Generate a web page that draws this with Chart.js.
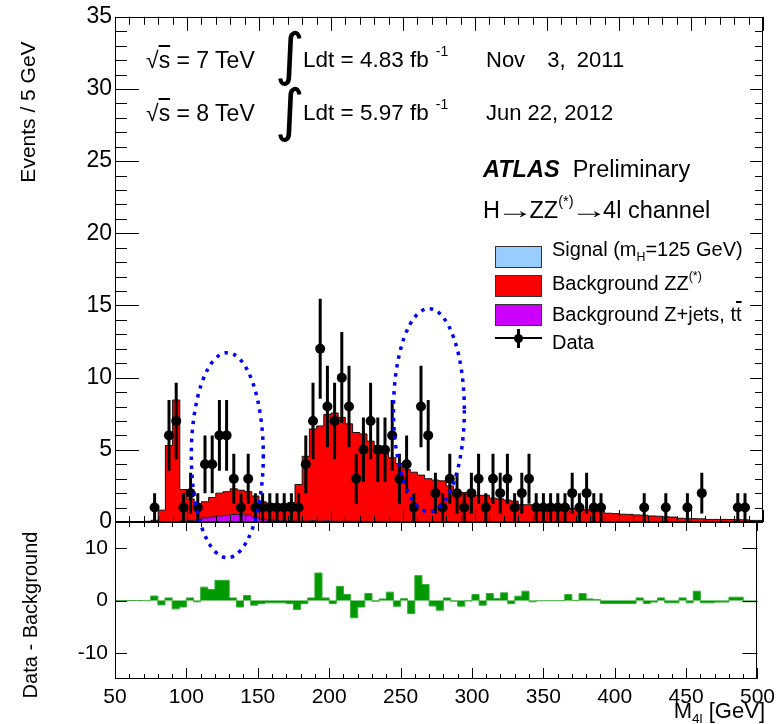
<!DOCTYPE html>
<html><head><meta charset="utf-8">
<script src="https://cdn.jsdelivr.net/npm/chart.js@4.4.1/dist/chart.umd.min.js"></script>
<style>
body{margin:0;background:#fff;}
#wrap{position:relative;width:781px;height:724px;overflow:hidden;font-family:"Liberation Sans",Arial,sans-serif;color:#000}
canvas{position:absolute;left:0;top:0}
.t{position:absolute;white-space:pre;line-height:1;}
.sup{position:relative;font-size:0.62em;top:-0.8em;}
.sub{position:relative;font-size:0.62em;top:0.4em;}
.ov{text-decoration:overline;}
.ar{display:inline-block;margin:0 3px;transform:scaleX(1.6);}
.box{position:absolute;width:45px;height:20px;border:1px solid #333;}
</style></head>
<body>
<div id="wrap">
<canvas id="top" width="781" height="724"></canvas>
<canvas id="bot" width="781" height="724"></canvas>

<div class="t" style="left:27px;top:112px;font-size:21px;transform:translate(-50%,-50%) rotate(-90deg)">Events / 5 GeV</div>
<div class="t" style="left:30px;top:615px;font-size:20px;transform:translate(-50%,-50%) rotate(-90deg)">Data - Background</div>
<div class="t" style="right:16px;top:700px;font-size:22px">M<span class="sub">4l</span> [GeV]</div>

<div class="t" style="left:146px;top:49px;font-size:23px">√<span class="ov">s</span> = 7 TeV</div>
<div class="t" style="left:146px;top:102px;font-size:23px">√<span class="ov">s</span> = 8 TeV</div>
<div class="t" style="left:275px;top:26px;font-size:57px;font-family:'DejaVu Sans'">∫</div>
<div class="t" style="left:275px;top:82px;font-size:57px;font-family:'DejaVu Sans'">∫</div>
<div class="t" style="left:303px;top:49px;font-size:22.5px">Ldt = 4.83 fb<span class="sup" style="margin-left:7px">-1</span></div>
<div class="t" style="left:303px;top:102px;font-size:22.5px">Ldt = 5.97 fb<span class="sup" style="margin-left:7px">-1</span></div>
<div class="t" style="left:486px;top:49px;font-size:22px;word-spacing:5px">Nov  3, 2011</div>
<div class="t" style="left:486px;top:102px;font-size:22px">Jun 22, 2012</div>

<div class="t" style="left:483px;top:158px;font-size:23.5px"><b><i>ATLAS</i></b>  Preliminary</div>
<div class="t" style="left:483px;top:199px;font-size:23.5px">H<span class="ar">→</span>ZZ<span class="sup">(*)</span><span class="ar">→</span>4l channel</div>

<div class="box" style="left:495px;top:246px;background:#99ccff"></div>
<div class="box" style="left:495px;top:275px;background:#ff0000"></div>
<div class="box" style="left:495px;top:304px;background:#cc00ff"></div>
<div style="position:absolute;left:495px;top:337px;width:47px;height:2px;background:#000"></div>
<div style="position:absolute;left:517px;top:329px;width:3px;height:19px;background:#000"></div>
<div style="position:absolute;left:514px;top:334px;width:9px;height:9px;border-radius:50%;background:#000"></div>
<div class="t" style="left:552px;top:239px;font-size:20px">Signal (m<span class="sub">H</span>=125 GeV)</div>
<div class="t" style="left:552px;top:273px;font-size:20px">Background ZZ<span class="sup">(*)</span></div>
<div class="t" style="left:552px;top:304px;font-size:20px">Background Z+jets, t<span class="ov">t</span></div>
<div class="t" style="left:552px;top:332px;font-size:20px">Data</div>
</div>
<script>
// ---- data (5 GeV bins, low edges 50..495, last edge 500) ----
const binEdges = [50,55,60,65,70,75,80,85,90,95,100,105,110,115,120,125,130,135,140,145,150,155,160,165,170,175,180,185,190,195,200,205,210,215,220,225,230,235,240,245,250,255,260,265,270,275,280,285,290,295,300,305,310,315,320,325,330,335,340,345,350,355,360,365,370,375,380,385,390,395,400,405,410,415,420,425,430,435,440,445,450,455,460,465,470,475,480,485,490,495,500];
const dataCounts = [0,0,0,0,0,1,0,6,7,1,2,1,4,4,6,6,3,1,3,1,1,1,1,1,1,1,4,7,12,8,7,10,8,3,5,7,5,5,6,3,4,1,8,6,2,1,3,2,1,2,3,1,3,2,3,1,2,3,1,1,1,1,1,2,1,2,1,1,0,0,0,0,0,1,0,0,1,0,0,1,0,2,0,0,0,0,1,1,0,0];
const bkgZZ = [0,0,0,0,0.05,0.12,0.82,5.3,8.42,2.17,1.5,1.1,1.12,1.35,1.58,1.64,1.78,1.66,1.63,1.48,1.2,1.17,1.15,1.17,1.28,2.54,4.49,6.36,6.59,7.37,7.5,7.2,6.75,6.15,6.06,5.56,5.26,4.71,4.41,4.01,3.62,3.42,3.22,2.97,2.87,2.82,2.47,2.07,2.03,1.93,1.83,1.83,1.63,1.58,1.5,1.43,1.18,1.18,1.1,1.08,1.04,1.04,0.94,0.92,0.87,0.85,0.75,0.74,0.6,0.57,0.53,0.52,0.48,0.46,0.41,0.39,0.35,0.33,0.25,0.24,0.22,0.21,0.17,0.17,0.17,0.16,0.15,0.14,0.1,0.1];
const bkgZjets = [0,0,0,0,0,0,0,0,0.03,0.08,0.1,0.15,0.28,0.35,0.42,0.46,0.52,0.54,0.47,0.32,0.2,0.13,0.1,0.08,0.07,0.06,0.06,0.09,0.06,0.08,0.05,0.05,0.05,0.05,0.04,0.04,0.04,0.04,0.04,0.04,0.03,0.03,0.03,0.03,0.03,0.03,0.03,0.03,0.02,0.02,0.02,0.02,0.02,0.02,0.02,0.02,0.02,0.02,0.02,0.02,0.01,0.01,0.01,0.01,0.01,0.01,0.01,0.01,0.01,0.01,0.01,0.01,0.01,0.01,0.01,0.01,0.01,0.01,0.01,0.01,0.01,0.01,0.01,0.01,0.01,0.01,0.01,0.01,0.01,0.01];
const residual = [0,0,0,0,-0.05,0.85,-0.85,0.5,-1.6,-1.25,0.5,-0.25,2.55,2.1,3.85,3.85,0.5,-1.25,0.95,-0.9,-0.6,-0.45,-0.45,-0.45,-0.6,-1.7,-0.6,0.5,5.25,0.5,-0.6,2.7,1.15,-3.3,-1.25,1.35,-0.15,0.3,1.6,-1.1,0.35,-2.5,4.75,3.05,-1.05,-1.85,0.5,-0.13,-1.08,-0.1,1.14,-0.89,1.33,0.38,1.46,-0.6,0.83,1.78,-0.25,-0.05,-0.05,-0.05,-0.05,1.14,0.02,1.33,0.3,0.2,-0.57,-0.57,-0.57,-0.57,-0.57,0.5,-0.57,-0.3,0.5,-0.45,-0.45,0.5,-0.45,1.78,-0.45,-0.45,-0.3,-0.3,0.63,0.63,-0.25,-0.25];
const xTickLabels = [50,100,150,200,250,300,350,400,450,500];
const yTopTickLabels = [0,5,10,15,20,25,30,35];
const yBotTickLabels = [-10,0,10];
// highlighted regions (mass centre, events centre, half-widths)
const ellipses = [{m:128, v:4.63, dm:25, dv:7.1},{m:268, v:7.75, dm:24.6, dv:7.03}];

Chart.defaults.font.family = "'Liberation Sans', Arial, sans-serif";
Chart.defaults.color = '#000';

const stepPts = vals => binEdges.map((e,i) => ({x:e, y: vals[Math.min(i, vals.length-1)]}));
const dataPts = [];
dataCounts.forEach((n,i) => { if (n > 0) dataPts.push({x:(binEdges[i]+binEdges[i+1])/2, y:n}); });

const framePlugin = {
  id:'frame',
  afterDatasetsDraw(chart, args, o) {
    const {ctx, chartArea:a, scales:{x, y}} = chart;
    ctx.save();
    ctx.strokeStyle = '#000'; ctx.lineWidth = 1;
    ctx.beginPath();
    ctx.rect(Math.round(a.left)+0.5, Math.round(a.top)+0.5, Math.round(a.right-a.left)-1, Math.round(a.bottom-a.top)-1);
    for (let v = x.min; v <= x.max; v += 10) {
      const px = Math.round(x.getPixelForValue(v)) + 0.5;
      const maj = v % 50 === 0;
      ctx.moveTo(px, a.top); ctx.lineTo(px, a.top + (maj ? o.xt[0] : o.xt[1]));
      ctx.moveTo(px, a.bottom); ctx.lineTo(px, a.bottom - (maj ? o.xb[0] : o.xb[1]));
    }
    for (let v = y.min; v <= y.max + 1e-9; v += o.ystep) {
      const py = Math.round(y.getPixelForValue(v)) + 0.5;
      const maj = Math.abs(v % o.ymaj) < 1e-9;
      const ll = maj ? o.yl[0] : o.yl[1], lr = maj ? o.yr[0] : o.yr[1];
      if (ll) { ctx.moveTo(a.left, py); ctx.lineTo(a.left + ll, py); }
      if (lr) { ctx.moveTo(a.right, py); ctx.lineTo(a.right - lr, py); }
    }
    ctx.stroke();
    ctx.restore();
  }
};

const errPlugin = {
  id:'errbars',
  afterDatasetsDraw(chart) {
    const {ctx, chartArea:a, scales:{y}} = chart;
    const meta = chart.getDatasetMeta(0);
    const ds = chart.data.datasets[0].data;
    ctx.save();
    ctx.beginPath(); ctx.rect(a.left, a.top, a.right-a.left, a.bottom-a.top); ctx.clip();
    ctx.strokeStyle = '#000'; ctx.lineWidth = 3;
    ctx.beginPath();
    meta.data.forEach((el, i) => {
      const n = ds[i].y, e = Math.sqrt(n);
      ctx.moveTo(el.x, y.getPixelForValue(n - e));
      ctx.lineTo(el.x, y.getPixelForValue(n + e));
    });
    ctx.stroke();
    ctx.restore();
  }
};

const ellipsePlugin = {
  id:'ellipses',
  afterDraw(chart) {
    const {ctx, scales:{x, y}} = chart;
    ctx.save();
    ctx.strokeStyle = '#0000ff'; ctx.lineWidth = 3.5; ctx.setLineDash([3.5, 5.5]);
    ellipses.forEach(e => {
      const cx = x.getPixelForValue(e.m), cy = y.getPixelForValue(e.v);
      const rx = x.getPixelForValue(e.m + e.dm) - cx;
      const ry = cy - y.getPixelForValue(e.v + e.dv);
      ctx.beginPath(); ctx.ellipse(cx, cy, rx, ry, 0, 0, 2*Math.PI); ctx.stroke();
    });
    ctx.restore();
  }
};

new Chart(document.getElementById('top'), {
  type:'line',
  data:{datasets:[
    {label:'Data', type:'scatter', data:dataPts, stack:'data', showLine:false, pointRadius:5, pointBackgroundColor:'#000', pointBorderColor:'#000', pointBorderWidth:0, order:0},
    {label:'Background Z+jets, tt', data:stepPts(bkgZjets), stack:'bg', stepped:true, fill:'origin', backgroundColor:'#cc00ff', borderColor:'#222', borderWidth:1, pointRadius:0, order:1},
    {label:'Background ZZ(*)', data:stepPts(bkgZZ), stack:'bg', stepped:true, fill:'-1', backgroundColor:'#ff0000', borderColor:'#111', borderWidth:1, pointRadius:0, order:2}
  ]},
  options:{
    responsive:false, animation:false, events:[],
    layout:{padding:{left:0, right:18, top:16, bottom:202}},
    plugins:{legend:{display:false}, tooltip:{enabled:false},
      frame:{xt:[14,8], xb:[12,6], ystep:1, ymaj:5, yl:[24,12], yr:[13,8]}},
    scales:{
      x:{type:'linear', min:50, max:500, display:false},
      y:{type:'linear', min:0, max:35, stacked:true,
         grid:{display:false, drawTicks:false}, border:{display:false},
         afterFit:s=>{s.width=115;},
         afterBuildTicks:s=>{s.ticks=yTopTickLabels.map(v=>({value:v}));},
         ticks:{font:{size:23}, color:'#000', padding:3}}
    }
  },
  plugins:[framePlugin, errPlugin, ellipsePlugin]
});

new Chart(document.getElementById('bot'), {
  type:'line',
  data:{datasets:[
    {label:'Data - Background', data:stepPts(residual), stepped:true, fill:{value:0}, backgroundColor:'#009900', borderColor:'#3aad3a', borderWidth:1, pointRadius:0}
  ]},
  options:{
    responsive:false, animation:false, events:[],
    layout:{padding:{left:0, right:18, top:522, bottom:0}},
    plugins:{legend:{display:false}, tooltip:{enabled:false},
      frame:{xt:[9,5], xb:[11,5], ystep:5, ymaj:10, yl:[12,0], yr:[15,0]}},
    scales:{
      x:{type:'linear', min:50, max:500,
         grid:{display:false, drawTicks:false}, border:{display:false},
         afterFit:s=>{s.height=45;},
         afterBuildTicks:s=>{s.ticks=xTickLabels.map(v=>({value:v}));},
         ticks:{font:{size:21}, color:'#000', padding:6, maxRotation:0, autoSkip:false}},
      y:{type:'linear', min:-15, max:15,
         grid:{display:false, drawTicks:false}, border:{display:false},
         afterFit:s=>{s.width=115;},
         afterBuildTicks:s=>{s.ticks=yBotTickLabels.map(v=>({value:v}));},
         ticks:{font:{size:21}, color:'#000', padding:7}}
    }
  },
  plugins:[framePlugin]
});
</script>
</body></html>
